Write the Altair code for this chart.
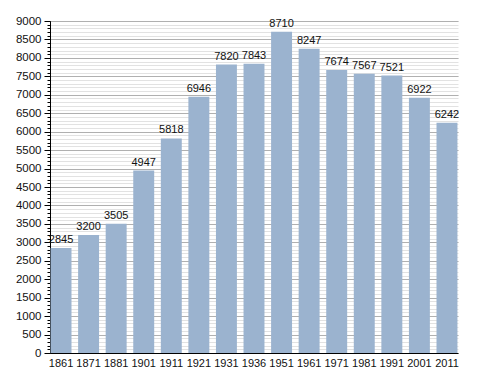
import altair as alt
import pandas as pd

years = ["1861", "1871", "1881", "1901", "1911", "1921", "1931", "1936",
         "1951", "1961", "1971", "1981", "1991", "2001", "2011"]
population = [2845, 3200, 3505, 4947, 5818, 6946, 7820, 7843,
              8710, 8247, 7674, 7567, 7521, 6922, 6242]
major_ticks = list(range(0, 9001, 500))
minor_ticks = list(range(0, 9001, 100))

df = pd.DataFrame({"year": years, "pop": population})

font = "Liberation Sans"

x_enc = alt.X("year:N", sort=None, title=None,
              scale=alt.Scale(paddingInner=0.24, paddingOuter=0.02),
              axis=alt.Axis(labelAngle=0, ticks=False, domainColor="black",
                            labelColor="#111", labelFont=font, labelFontSize=11,
                            labelPadding=4, grid=False))

y_scale = alt.Scale(domain=[0, 9000], nice=False)

minor = alt.Chart(df).mark_bar(opacity=0).encode(
    x=x_enc,
    y=alt.Y("pop:Q", scale=y_scale, title=None,
            axis=alt.Axis(orient="left", values=minor_ticks, labels=False,
                          domain=False, tickSize=3, tickColor="black",
                          gridColor="#e2e2e2", gridWidth=1, grid=True)),
)

bars = alt.Chart(df).mark_bar(color="#9bb3cf").encode(
    x=x_enc,
    y=alt.Y("pop:Q", scale=y_scale, title=None,
            axis=alt.Axis(orient="left", values=major_ticks, domainColor="black",
                          tickSize=6, tickColor="black", gridColor="#b0b0b0",
                          format="d", grid=True,
                          labelFont=font, labelFontSize=11.5, labelColor="#111",
                          labelPadding=3)),
)

text = alt.Chart(df).mark_text(baseline="bottom", dy=-3, font=font, fontSize=11,
                               color="#111").encode(
    x=x_enc,
    y=alt.Y("pop:Q", scale=y_scale, axis=None),
    text="pop:Q",
)

chart = alt.layer(minor, bars, text).resolve_axis(y="independent").properties(
    width=408, height=332,
    autosize=alt.AutoSizeParams(type="none"),
    padding={"left": 42, "top": 13, "right": 22, "bottom": 20},
).configure_view(stroke=None)

chart.save("out.html", embed_options={"renderer": "svg", "actions": False})
